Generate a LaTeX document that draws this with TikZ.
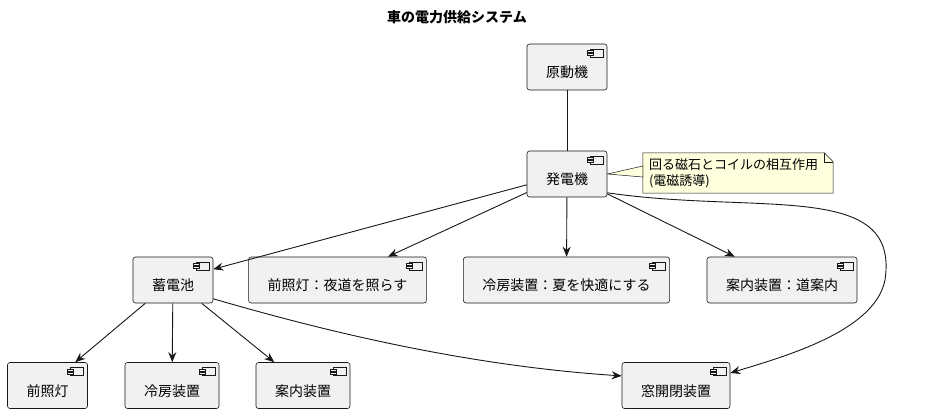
\documentclass[tikz,border=0pt]{standalone}
\usepackage{fontspec}
\setmainfont{Noto Sans CJK JP}
\usetikzlibrary{arrows.meta,backgrounds}
\begin{document}
\begin{tikzpicture}[x=1pt,y=-1pt,
  comp/.style={draw=lineclr, fill=compfill, rounded corners=2.5pt, line width=0.6pt,
    minimum height=46pt, inner xsep=19pt, text height=24pt, text depth=3pt,
    font=\fontsize{14pt}{17pt}\selectfont,
    path picture={
      \draw[lineclr, line width=0.5pt, sharp corners]
        ([xshift=-17pt,yshift=-5pt]path picture bounding box.north east) rectangle
        ([xshift=-4pt,yshift=-13pt]path picture bounding box.north east);
      \draw[lineclr, line width=0.5pt, sharp corners, fill=compfill]
        ([xshift=-20pt,yshift=-6.5pt]path picture bounding box.north east) rectangle
        ([xshift=-14pt,yshift=-8.5pt]path picture bounding box.north east);
      \draw[lineclr, line width=0.5pt, sharp corners, fill=compfill]
        ([xshift=-20pt,yshift=-9.5pt]path picture bounding box.north east) rectangle
        ([xshift=-14pt,yshift=-11.5pt]path picture bounding box.north east);
    }},
  link/.style={draw=lineclr, line width=0.9pt},
  flow/.style={link, -{Stealth[length=10pt,width=8pt]}},
  notetext/.style={text width=178pt, align=left, inner xsep=6pt, minimum height=40pt,
    font=\fontsize{13pt}{16pt}\selectfont},
  notebox/.style={draw=lineclr, fill=notefill, line width=0.5pt}]
  % Define colors
  \definecolor{lineclr}{HTML}{181818}
  \definecolor{compfill}{HTML}{F1F1F1}
  \definecolor{notefill}{HTML}{FEFFDD}

  \useasboundingbox (0,0) rectangle (926,414);

  % Title
  \node[font=\bfseries\fontsize{14pt}{17pt}\selectfont] (title) at (457,17) {車の電力供給システム};

  % Components
  \node[comp] (eng) at (567,67) {原動機};
  \node[comp] (gen) at (567,174) {発電機};
  \node[comp] (bat) at (173,280) {蓄電池};
  \node[comp] (hlnote) at (337.5,280) {前照灯：夜道を照らす};
  \node[comp] (acnote) at (566.5,280) {冷房装置：夏を快適にする};
  \node[comp] (navnote) at (782,280) {案内装置：道案内};
  \node[comp] (hl) at (47.5,385.5) {前照灯};
  \node[comp] (ac) at (172,385.5) {冷房装置};
  \node[comp] (nav) at (303,385.5) {案内装置};
  \node[comp] (win) at (676,385.5) {窓開閉装置};

  % Note
  \node[notetext] (note) at (738,173) {回る磁石とコイルの相互作用\\(電磁誘導)};
  \begin{scope}[on background layer]
    \fill[white] (0,0) rectangle (926,414);
    \filldraw[notebox] (note.north west) -- ([xshift=-9pt]note.north east)
      -- ([yshift=-9pt]note.north east) -- (note.south east) -- (note.south west) -- cycle;
    \draw[notebox, fill=none] ([xshift=-9pt]note.north east) |- ([yshift=-9pt]note.north east);
    \filldraw[notebox] (gen.east) -- ([yshift=7pt]note.west) -- ([yshift=-4pt]note.west) -- cycle;
  \end{scope}

  % Connectors
  \draw[link] (eng) -- (gen);
  \draw[flow] (gen) -- (bat);
  \draw[flow] (gen) -- (hlnote);
  \draw[flow] (gen) -- (acnote);
  \draw[flow] (gen) -- (navnote);
  \draw[flow] (gen.-25) .. controls (760,215) and (900,180) .. (885,280)
    .. controls (875,330) and (790,355) .. (win.13);
  \draw[flow] (bat) -- (hl);
  \draw[flow] (bat) -- (ac);
  \draw[flow] (bat) -- (nav);
  \draw[flow] (bat.-25) .. controls (334,334) and (472,366) .. (win.170);
\end{tikzpicture}
\end{document}
